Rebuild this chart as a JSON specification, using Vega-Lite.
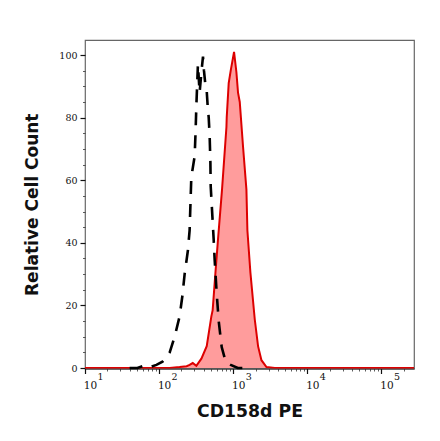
{
  "$schema": "https://vega.github.io/schema/vega-lite/v6.json",
  "width": 329, "height": 328.5,
  "autosize": {"type": "none"},
  "padding": {"left": 85, "top": 40, "right": 26, "bottom": 72.5},
  "background": "white",
  "config": {"view": {"stroke": "#666666", "strokeWidth": 1.2}},
  "datasets": {
    "stained": [
      {"intensity": 10, "count": 0}, {"intensity": 139, "count": 0}, {"intensity": 189, "count": 0.3},
      {"intensity": 235, "count": 0.6}, {"intensity": 258, "count": 1}, {"intensity": 284, "count": 1.6},
      {"intensity": 318, "count": 0.7}, {"intensity": 372, "count": 3}, {"intensity": 439, "count": 7},
      {"intensity": 507, "count": 16.5}, {"intensity": 528, "count": 18.5}, {"intensity": 580, "count": 31.5},
      {"intensity": 618, "count": 40}, {"intensity": 706, "count": 57}, {"intensity": 810, "count": 77},
      {"intensity": 817, "count": 80}, {"intensity": 869, "count": 91}, {"intensity": 925, "count": 95},
      {"intensity": 1026, "count": 101}, {"intensity": 1104, "count": 94.5}, {"intensity": 1161, "count": 88},
      {"intensity": 1225, "count": 85}, {"intensity": 1357, "count": 70.7}, {"intensity": 1507, "count": 57},
      {"intensity": 1553, "count": 44}, {"intensity": 1706, "count": 30.5}, {"intensity": 1954, "count": 15.5},
      {"intensity": 2163, "count": 7}, {"intensity": 2404, "count": 2.5}, {"intensity": 2812, "count": 0.3},
      {"intensity": 3639, "count": 0}, {"intensity": 275000, "count": 0}
    ],
    "isotype": [
      {"intensity": 40, "count": 0}, {"intensity": 51, "count": 0}, {"intensity": 60, "count": 0.6},
      {"intensity": 70, "count": 0}, {"intensity": 92, "count": 1}, {"intensity": 111, "count": 2},
      {"intensity": 139, "count": 5}, {"intensity": 162, "count": 10}, {"intensity": 189, "count": 16.5},
      {"intensity": 206, "count": 23}, {"intensity": 221, "count": 30}, {"intensity": 245, "count": 37.7},
      {"intensity": 258, "count": 44}, {"intensity": 272, "count": 61}, {"intensity": 302, "count": 67.7},
      {"intensity": 311, "count": 76}, {"intensity": 318, "count": 83.7}, {"intensity": 334, "count": 97},
      {"intensity": 352, "count": 88}, {"intensity": 372, "count": 94.5}, {"intensity": 391, "count": 99.5},
      {"intensity": 403, "count": 95}, {"intensity": 419, "count": 91}, {"intensity": 439, "count": 88.5},
      {"intensity": 452, "count": 83.7}, {"intensity": 467, "count": 80}, {"intensity": 481, "count": 74},
      {"intensity": 492, "count": 65.6}, {"intensity": 497, "count": 58}, {"intensity": 545, "count": 41},
      {"intensity": 562, "count": 34.5}, {"intensity": 598, "count": 24}, {"intensity": 637, "count": 15},
      {"intensity": 699, "count": 6.7}, {"intensity": 792, "count": 2}, {"intensity": 925, "count": 1},
      {"intensity": 1151, "count": 0}, {"intensity": 1671, "count": 0}
    ]
  },
  "resolve": {"axis": {"x": "independent", "y": "independent"}},
  "layer": [
    {
      "data": {"name": "stained"},
      "mark": {"type": "area", "color": "#ff9c9c", "interpolate": "linear"},
      "encoding": {
        "x": {
          "field": "intensity", "type": "quantitative",
          "scale": {"type": "log", "domain": [10, 275000], "nice": false},
          "axis": {
            "orient": "bottom",
            "title": "CD158d PE", "titleFont": "DejaVu Sans", "titleFontWeight": "bold", "titleFontSize": 17.3,
            "titleColor": "#111111", "titlePadding": 12,
            "values": [10, 100, 1000, 10000, 100000],
            "labelExpr": "'10'",
            "labelFont": "DejaVu Serif", "labelFontSize": 10.5, "labelColor": "#111111", "labelOffset": 5, "labelPadding": 6.5,
            "labelFlush": false, "labelOverlap": false,
            "grid": false, "domainColor": "#222222", "tickColor": "#111111", "tickSize": 5, "tickWidth": 1.2
          }
        },
        "y": {
          "field": "count", "type": "quantitative",
          "scale": {"domain": [-0.15, 104.8], "nice": false, "zero": false},
          "axis": {
            "orient": "left",
            "title": "Relative Cell Count", "titleFont": "DejaVu Sans", "titleFontWeight": "bold", "titleFontSize": 17,
            "titleColor": "#111111", "titlePadding": 17,
            "values": [0, 20, 40, 60, 80, 100],
            "labelFont": "DejaVu Serif", "labelFontSize": 9.5, "labelColor": "#111111", "labelPadding": 3,
            "grid": false, "domain": false, "tickColor": "#111111", "tickSize": 5, "tickWidth": 1.2
          }
        }
      }
    },
    {
      "data": {"name": "stained"},
      "mark": {"type": "line", "color": "#dd0000", "strokeWidth": 2, "interpolate": "linear", "clip": true},
      "encoding": {
        "x": {
          "field": "intensity", "type": "quantitative",
          "axis": {
            "orient": "bottom",
            "title": null, "labels": false, "domain": false, "grid": false,
            "values": [20, 30, 40, 50, 60, 70, 80, 90, 200, 300, 400, 500, 600, 700, 800, 900, 2000, 3000, 4000, 5000, 6000, 7000, 8000, 9000, 20000, 30000, 40000, 50000, 60000, 70000, 80000, 90000, 200000],
            "tickColor": "#333333", "tickSize": 2.5, "tickWidth": 0.8
          }
        },
        "y": {
          "field": "count", "type": "quantitative",
          "axis": {
            "orient": "left",
            "title": null, "labels": false, "domain": false, "grid": false,
            "values": [5, 10, 15, 25, 30, 35, 45, 50, 55, 65, 70, 75, 85, 90, 95],
            "tickColor": "#333333", "tickSize": 2.5, "tickWidth": 0.8
          }
        }
      }
    },
    {
      "data": {"name": "isotype"},
      "mark": {"type": "line", "color": "#000000", "strokeWidth": 2.6, "strokeDash": [13, 10], "interpolate": "linear"},
      "encoding": {
        "x": {
          "field": "intensity", "type": "quantitative",
          "axis": {
            "orient": "bottom",
            "title": null, "domain": false, "grid": false, "ticks": false,
            "values": [10, 100, 1000, 10000, 100000],
            "labelExpr": "round(log(datum.value) / LN10)",
            "labelFont": "DejaVu Serif", "labelFontSize": 9.5, "labelColor": "#111111", "labelOffset": 15, "labelPadding": 3,
            "labelFlush": false, "labelOverlap": false
          }
        },
        "y": {"field": "count", "type": "quantitative", "axis": null}
      }
    }
  ]
}
